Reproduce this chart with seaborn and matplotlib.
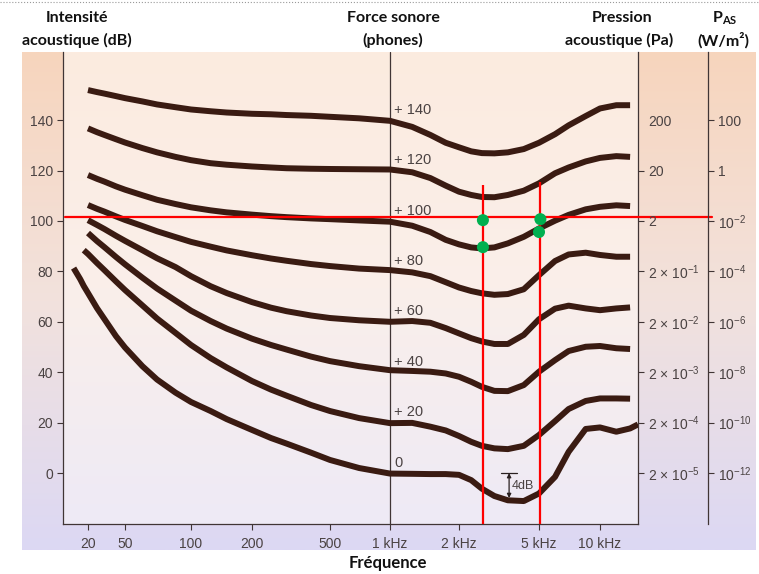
import numpy as np
import pandas as pd
import matplotlib
matplotlib.use("Agg")
import matplotlib.pyplot as plt
import seaborn as sns
from matplotlib.colors import LinearSegmentedColormap
from matplotlib.lines import Line2D

nan = np.nan

# equal-loudness contours (SPL in dB for each frequency in Hz)
freq = [14, 16.5, 18, 20, 25, 30, 40, 50, 60, 70, 85, 100, 125, 150, 200, 250, 300, 400, 500, 700,
        1000, 1250, 1500, 1750, 2000, 2300, 2600, 3000, 3500, 4200, 5000, 6000, 7000, 8500,
        10000, 12000, 14000, 15300]
phon_levels = [140, 120, 100, 80, 60, 40, 20, 0]
spl_140 = [nan, nan, nan, 151.9, 151.1, 150.5, 149.5, 148.7, 147.4, 146.2, 145.1, 144.2, 143.5,
           143.0, 142.5, 142.3, 142.0, 141.7, 141.3, 140.7, 139.7, 137.3, 134.1, 131.0, 129.2,
           127.6, 126.9, 126.8, 127.2, 128.5, 131.0, 134.4, 137.9, 141.6, 144.6, 145.9, 145.9, nan]
spl_120 = [nan, nan, nan, 136.7, 135.2, 134.1, 132.4, 131.1, 128.9, 127.2, 125.4, 124.1, 122.9,
           122.3, 121.6, 121.2, 120.9, 120.7, 120.6, 120.5, 120.4, 119.3, 117.0, 114.0, 111.6,
           110.3, 109.5, 109.4, 110.3, 112.0, 114.9, 118.9, 121.2, 123.6, 125.0, 125.7, 125.4, nan]
spl_100 = [nan, nan, nan, 118.2, 116.7, 115.6, 113.7, 112.4, 110.2, 108.4, 106.7, 105.4, 104.2,
           103.4, 102.5, 101.9, 101.5, 101.0, 100.7, 100.2, 99.7, 98.1, 95.6, 92.5, 90.7,
           89.5, 89.1, 89.5, 91.1, 93.7, 97.0, 100.1, 102.4, 104.6, 105.6, 106.2, 105.9, nan]
spl_80 = [nan, nan, nan, 106.3, 104.8, 103.7, 101.8, 100.4, 98.0, 95.9, 93.6, 91.7, 89.8,
          88.3, 86.4, 85.1, 84.2, 82.9, 82.1, 81.1, 80.5, 79.6, 78.1, 75.7, 73.6,
          72.2, 71.3, 70.7, 71.0, 72.9, 78.5, 84.1, 86.7, 87.4, 86.5, 85.8, 85.8, nan]
spl_60 = [nan, nan, nan, 100.3, 98.4, 96.8, 94.1, 92.1, 88.4, 85.2, 81.7, 78.1, 74.1,
          71.4, 67.8, 65.6, 64.2, 62.5, 61.5, 60.6, 60.0, 60.3, 59.6, 57.5, 55.4,
          53.5, 52.2, 51.2, 51.2, 54.8, 61.0, 65.2, 66.4, 65.3, 64.6, 65.3, 65.7, nan]
spl_40 = [nan, nan, nan, 95.2, 92.0, 89.6, 85.7, 82.8, 77.5, 73.2, 68.4, 64.4, 60.3,
          57.3, 53.3, 50.8, 49.0, 46.2, 44.4, 42.4, 40.8, 40.5, 40.2, 39.5, 38.2,
          36.2, 34.2, 32.6, 32.5, 34.9, 40.2, 44.8, 48.4, 50.1, 50.4, 49.5, 49.2, nan]
spl_20 = [nan, nan, 88.4, 86.9, 83.3, 80.5, 76.0, 72.6, 66.5, 61.3, 55.6, 50.8, 45.6,
          41.9, 36.5, 33.1, 30.7, 27.0, 24.6, 21.8, 19.8, 19.9, 18.4, 16.9, 14.7,
          12.4, 10.8, 9.8, 9.5, 10.8, 15.1, 20.6, 25.4, 28.6, 29.6, 29.6, 29.5, nan]
spl_0 = [81.3, 76.9, 74.2, 71.4, 65.4, 61.1, 54.3, 49.8, 42.4, 37.1, 31.9, 28.2, 24.6,
         21.4, 17.1, 13.9, 11.7, 8.1, 5.2, 2.0, -0.2, -0.3, -0.4, -0.4, -0.7,
         -2.8, -6.2, -9.1, -10.8, -11.1, -8.1, -1.5, 8.4, 17.5, 18.1, 16.4, 17.7, 19.3]
curves = [spl_140, spl_120, spl_100, spl_80, spl_60, spl_40, spl_20, spl_0]

freq_ticks = [20, 50, 100, 200, 500, 1000, 2000, 5000, 10000]
freq_labels = ['20', '50', '100', '200', '500', '1 kHz', '2 kHz', '5 kHz', '10 kHz']
db_ticks = [0, 20, 40, 60, 80, 100, 120, 140]
pa_labels = ['2 × 10$^{-5}$', '2 × 10$^{-4}$', '2 × 10$^{-3}$', '2 × 10$^{-2}$',
             '2 × 10$^{-1}$', '2', '20', '200']
pas_labels = ['10$^{-12}$', '10$^{-10}$', '10$^{-8}$', '10$^{-6}$', '10$^{-4}$',
              '10$^{-2}$', '1', '100']

# red construction lines and green points
cross_level = 101.4
marker_freq = [2630, 5050]
marker_top = [114.2, 115.4]
dot_freq = [2630, 2630, 5080, 5000]
dot_db = [100.3, 89.6, 100.7, 95.6]
span_freq = 3550
span_db = [0, -9.9]

W, H = 759, 574
CURVE = '#3a1b12'
AXC = '#403535'
TXT = '#4a4242'
RED = '#ff0000'
GREEN = '#00b050'

sns.set_style('ticks')
plt.rcParams['font.family'] = ['Liberation Sans', 'DejaVu Sans']
plt.rcParams['mathtext.fontset'] = 'custom'
plt.rcParams['mathtext.rm'] = 'Liberation Sans'
plt.rcParams['mathtext.it'] = 'Liberation Sans:italic'
plt.rcParams['mathtext.bf'] = 'Lato:bold'

# the printed frequency axis is not a pure log scale: map log(f) through the tick positions
TICK_PX = [88, 125, 191, 252, 330, 390, 459, 539, 600]
LK = np.array([1.0] + list(np.log10(freq_ticks)) + [4.301, 5.0])
PK = np.array([60.0] + TICK_PX + [662.0, 805.0])


def fwd(f):
    f = np.asarray(f, dtype=float)
    with np.errstate(invalid='ignore', divide='ignore'):
        lf = np.log10(np.where(f > 0, f, 1e-3))
    return np.interp(lf, LK, PK)


def inv(p):
    return 10 ** np.interp(np.asarray(p, dtype=float), PK, LK)


def fig_rect(x0, y0, x1, y1):
    return [x0 / W, 1 - y1 / H, (x1 - x0) / W, (y1 - y0) / H]


fig = plt.figure(figsize=(W / 100, H / 100), dpi=100)

grad = np.linspace(0, 1, 256)[:, None]
bg = fig.add_axes(fig_rect(22, 52, 756, 550))
bg.axis('off')
bg.imshow(grad, aspect='auto', extent=[0, 1, 0, 1],
          cmap=LinearSegmentedColormap.from_list('outer', ['#f7d5bd', '#f2e2dd', '#dcd8f4']))

L, T, R, B = 63, 52, 638, 524
inner = fig.add_axes(fig_rect(L, T, R, B))
inner.axis('off')
inner.imshow(grad, aspect='auto', extent=[0, 1, 0, 1],
             cmap=LinearSegmentedColormap.from_list('inner', ['#fcebdf', '#faefea', '#eeeaf6']))

ax = fig.add_axes(fig_rect(L, T, R, B))
ax.set_facecolor('none')
ax.set_xscale('function', functions=(fwd, inv))

rows = []
for lvl, spl in zip(phon_levels, curves):
    for f, s in zip(freq, spl):
        rows.append({'freq': f, 'spl': s, 'phon': lvl})
df = pd.DataFrame(rows).dropna()

ax.axvline(1000, color=AXC, lw=0.9, zorder=1)
sns.lineplot(data=df, x='freq', y='spl', units='phon', estimator=None, sort=False,
             color=CURVE, linewidth=4.3, solid_capstyle='butt', solid_joinstyle='round',
             ax=ax, legend=False, zorder=3)

ylo, yhi = -20.2, 167.0
ax.set_xticks(freq_ticks, freq_labels)
ax.set_yticks(db_ticks, [str(v) for v in db_ticks])
ax.set_xlabel('')
ax.set_ylabel('')
ax.spines['top'].set_visible(False)
for s in ['left', 'right', 'bottom']:
    ax.spines[s].set_color(AXC)
    ax.spines[s].set_linewidth(0.9)
ax.tick_params(axis='both', direction='out', length=4.3, width=0.8, color=AXC,
               labelcolor=TXT, labelsize=10)
ax.tick_params(axis='x', pad=5)
ax.tick_params(axis='y', pad=3)

# phone labels along the 1 kHz line
for lvl in phon_levels:
    lab = '0' if lvl == 0 else f'+ {lvl}'
    ax.annotate(lab, xy=(1000, lvl), xytext=(3, 7.5), textcoords='offset points',
                ha='left', va='center', fontsize=10.5, color=TXT, zorder=4)

# 4 dB marker
ax.annotate('', xy=(span_freq, span_db[1]), xytext=(span_freq, span_db[0]),
            arrowprops=dict(arrowstyle='<|-|>', color='#2a2020', lw=0.9,
                            mutation_scale=6, shrinkA=0, shrinkB=0), zorder=4)
ax.plot([3240, 3890], [span_db[0]] * 2, color='#2a2020', lw=0.9, zorder=4)
ax.text(3670, -5.2, '4dB', ha='left', va='center', fontsize=9, color=TXT, zorder=4)

# red construction lines
ax.axhline(cross_level, xmin=(65 - L) / (R - L), xmax=(712 - L) / (R - L), color=RED,
           lw=1.6, clip_on=False, zorder=5)
ax.vlines(marker_freq, ylo, marker_top, color=RED, lw=1.6, zorder=5)
sns.scatterplot(x=dot_freq, y=dot_db, color=GREEN, s=75, edgecolor='none', ax=ax, zorder=6,
                legend=False)
ax.set_xlim(inv(L), inv(R))
ax.set_ylim(ylo, yhi)

# pressure axis
ax2 = ax.twinx()
ax2.set_ylim(ylo, yhi)
ax2.set_yticks(db_ticks, pa_labels)
for s in ax2.spines.values():
    s.set_visible(False)
ax2.tick_params(axis='y', direction='out', length=4.3, width=0.8, color=AXC,
                labelcolor=TXT, labelsize=10, pad=3)
ax2.yaxis.get_major_ticks()[-1].tick2line.set_visible(False)

# intensity axis
ax3 = ax.twinx()
ax3.set_ylim(ylo, yhi)
ax3.set_yticks(db_ticks, pas_labels)
for k, s in ax3.spines.items():
    s.set_visible(k == 'right')
ax3.spines['right'].set_position(('axes', (708 - L) / (R - L)))
ax3.spines['right'].set_color(AXC)
ax3.spines['right'].set_linewidth(0.9)
ax3.tick_params(axis='y', direction='out', length=4.3, width=0.8, color=AXC,
                labelcolor=TXT, labelsize=10, pad=3)


def ftext(x, y, s, size=11.5):
    fig.text(x / W, 1 - y / H, s, ha='center', va='center', fontsize=size,
             fontfamily='Lato', fontweight='bold', color='#111111')


ftext(77, 18, 'Intensité')
ftext(77, 40, 'acoustique (dB)')
ftext(393, 18, 'Force sonore')
ftext(393, 40, '(phones)')
ftext(622, 18, 'Pression')
ftext(619, 40, 'acoustique (Pa)')
ftext(725, 18, r'$\mathbf{P}_{\mathbf{AS}}$')
ftext(723, 40, '(W/m²)')
ftext(388, 563, 'Fréquence', size=12)

fig.add_artist(Line2D([0, 1], [1 - 2 / H] * 2, transform=fig.transFigure, ls=':',
                      color='#9a9a9a', lw=0.8))

fig.savefig('out.png', dpi=100)
